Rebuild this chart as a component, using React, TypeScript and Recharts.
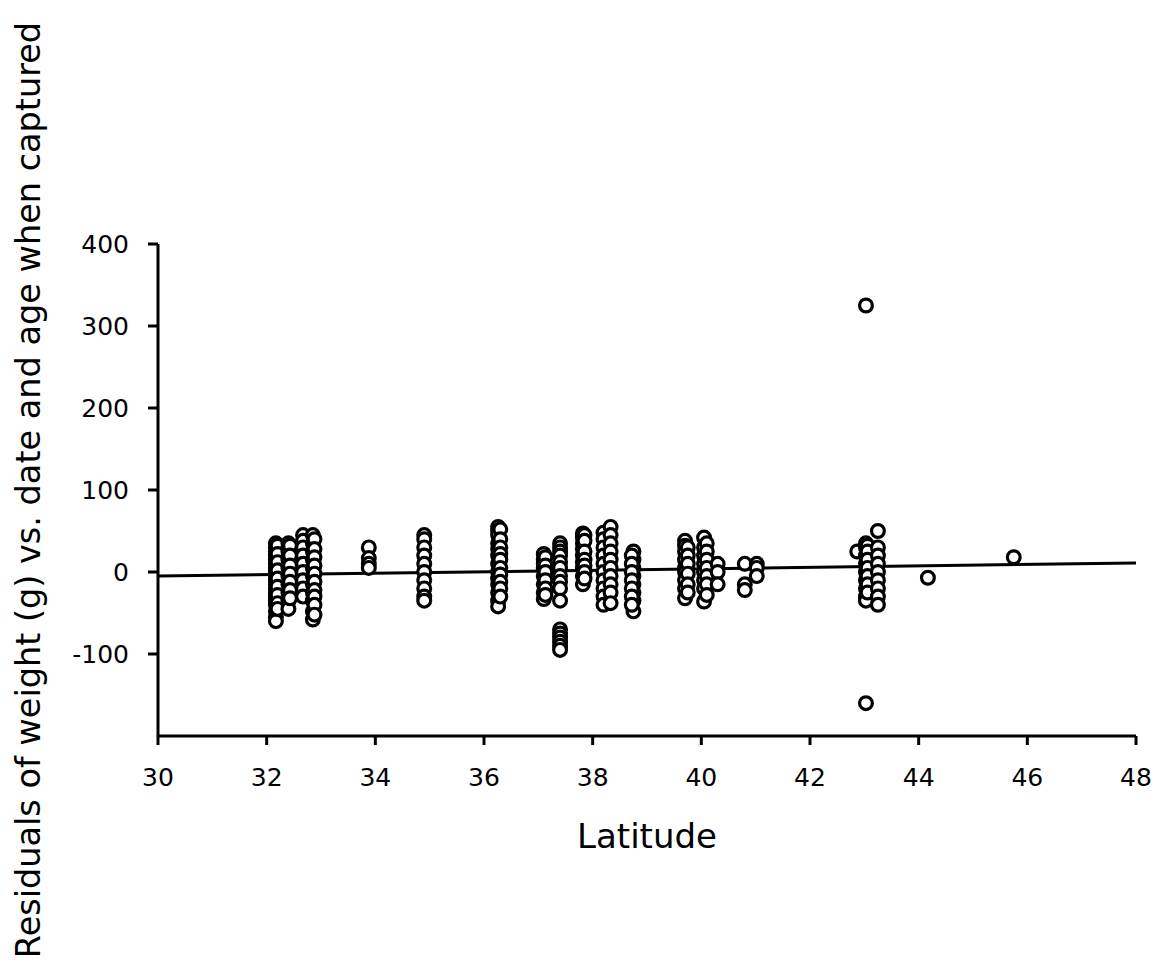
import { ScatterChart, Scatter, XAxis, YAxis } from "recharts";

// latitude of each capture site (column of points)
const siteLat = [
  32.17, 32.2, 32.4, 32.43, 32.67, 32.85, 32.88, 33.88, 34.9, 36.26,
  36.3, 37.1, 37.13, 37.4, 37.82, 37.85, 38.2, 38.33, 38.75, 38.72,
  39.7, 39.75, 40.05, 40.1, 40.3, 40.8, 41.02, 42.87, 43.03, 43.06,
  43.25, 44.17, 45.75,
];

// residuals (g)
const siteResiduals = [
  [35, 30, 25, 20, 15, 10, 5, 0, -5, -10, -15, -20, -25, -30, -35, -40, -48, -55, -60],
  [32, 22, 12, 2, -8, -18, -28, -38, -45],
  [35, 30, 25, 15, 5, -5, -15, -25, -35, -45],
  [32, 20, 8, -2, -12, -22, -32],
  [45, 38, 30, 20, 10, 0, -10, -20, -30],
  [45, 35, 25, 15, 5, -5, -15, -25, -35, -48, -58],
  [40, 28, 18, 8, -2, -12, -22, -30, -40, -52],
  [30, 17, 10, 5],
  [45, 40, 30, 20, 10, 0, -10, -20, -30, -35],
  [55, 50, 45, 35, 28, 20, 10, 0, -8, -15, -25, -35, -42],
  [52, 40, 30, 22, 15, 5, -3, -12, -20, -30],
  [22, 15, 10, 5, -5, -15, -25, -33],
  [18, 8, 0, -10, -20, -28],
  [35, 30, 25, 20, 12, 5, -5, -12, -20, -35, -70, -75, -80, -85, -90, -95],
  [47, 42, 35, 28, 20, 12, 5, -5, -15],
  [45, 38, 25, 15, 8, 0, -8],
  [48, 40, 30, 20, 10, 0, -10, -20, -30, -40],
  [55, 45, 35, 25, 15, 5, -5, -15, -25, -38],
  [25, 15, 5, -5, -15, -25, -35, -48],
  [20, 10, 0, -10, -20, -30, -40],
  [38, 32, 25, 15, 5, 0, -10, -20, -32],
  [30, 20, 10, -2, -15, -25],
  [42, 30, 20, 10, 0, -10, -20, -36],
  [35, 25, 15, 5, -5, -15, -28],
  [10, 0, -15],
  [10, -15, -22],
  [10, 5, -5],
  [25],
  [325, 35, 30, 20, 10, 0, -10, -20, -30, -35, -160],
  [32, 25, 15, 5, -5, -15, -25],
  [50, 30, 20, 10, 0, -10, -20, -30, -40],
  [-7],
  [18],
];

// fitted regression line end points
const trendLat = [30, 48];
const trendResidual = [-5, 11];

const xTicks = [30, 32, 34, 36, 38, 40, 42, 44, 46, 48];
const yTicks = [-100, 0, 100, 200, 300, 400];

const points = siteLat.flatMap((lat, i) => siteResiduals[i].map((r) => ({ lat, r })));
const trend = trendLat.map((lat, i) => ({ lat, r: trendResidual[i] }));

const font = "'DejaVu Sans', Verdana, sans-serif";

const Dot = (props: any) => (
  <circle cx={props.cx} cy={props.cy} r={6.4} fill="#fff" stroke="#000" strokeWidth={3.2} />
);

export default function App() {
  return (
    <div style={{ position: "absolute", left: 0, top: 0, background: "#fff", fontFamily: font }}>
      <ScatterChart width={1160} height={976} margin={{ top: 244, right: 24, left: 0, bottom: 0 }}>
        <XAxis
          type="number"
          dataKey="lat"
          domain={[30, 48]}
          ticks={xTicks}
          height={240}
          stroke="#000"
          strokeWidth={3}
          tickSize={9}
          tickMargin={23}
          tick={{ fill: "#000", fontSize: 25, fontFamily: font }}
          label={{ value: "Latitude", position: "insideTop", offset: 88, fill: "#000", fontSize: 34, fontFamily: font }}
        />
        <YAxis
          type="number"
          dataKey="r"
          domain={[-200, 400]}
          ticks={yTicks}
          width={158}
          stroke="#000"
          strokeWidth={3}
          tickSize={10}
          tickMargin={19}
          tick={{ fill: "#000", fontSize: 25, fontFamily: font }}
          label={{
            value: "Residuals of weight (g) vs. date and age when captured",
            angle: -90,
            position: "insideLeft",
            offset: 28,
            fill: "#000",
            fontSize: 33.5,
            fontFamily: font,
            style: { textAnchor: "middle" },
          }}
        />
        <Scatter data={trend} line={{ stroke: "#000", strokeWidth: 3 }} shape={() => <g />} isAnimationActive={false} />
        <Scatter data={points} shape={Dot} isAnimationActive={false} />
      </ScatterChart>
    </div>
  );
}
